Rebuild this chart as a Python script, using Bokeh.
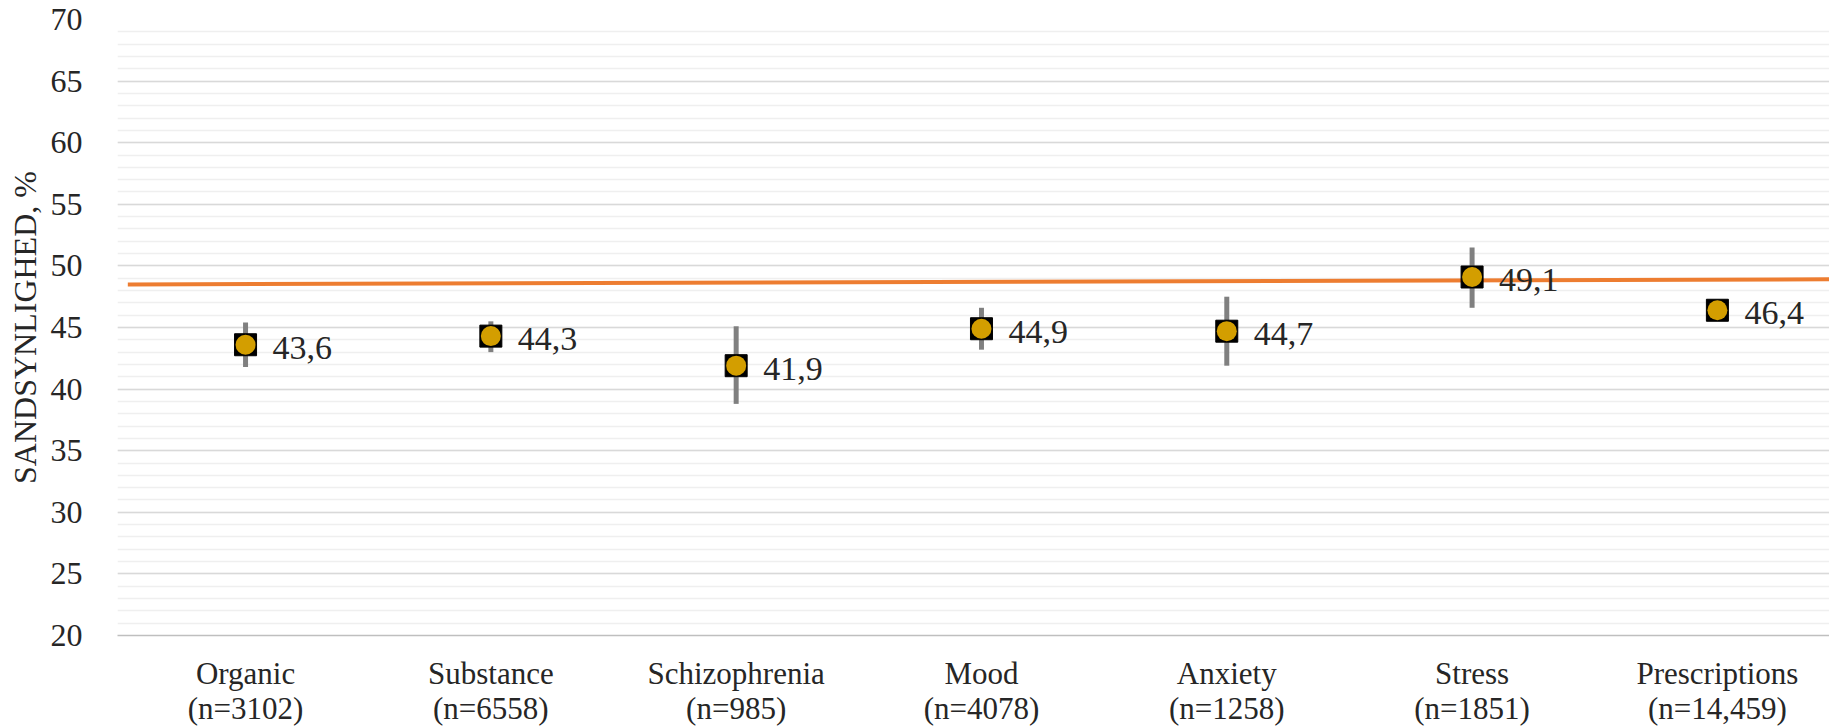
from bokeh.plotting import figure
from bokeh.models import ColumnDataSource, FixedTicker, SingleIntervalTicker, Range1d, LinearAxis
from bokeh.core.properties import value
from bokeh.embed import file_html
from bokeh.resources import INLINE

categories = ["Organic", "Substance", "Schizophrenia", "Mood", "Anxiety", "Stress", "Prescriptions"]
counts = ["3102", "6558", "985", "4078", "1258", "1851", "14,459"]
estimates = [43.6, 44.3, 41.9, 44.9, 44.7, 49.1, 46.4]
lower = [41.8, 43.0, 38.8, 43.2, 41.9, 46.6, 46.0]
upper = [45.4, 45.5, 45.1, 46.6, 47.5, 51.5, 46.8]
labels = ["43,6", "44,3", "41,9", "44,9", "44,7", "49,1", "46,4"]
ref_x = [0.52, 7.5]
ref_y = [48.5, 48.92]

FONT = "Liberation Serif"
TXT = "#262626"

xs = list(range(1, len(categories) + 1))
src = ColumnDataSource(dict(x=xs, est=estimates, lo=lower, hi=upper, lab=labels))

p = figure(width=1829, height=728, output_backend="svg", toolbar_location=None,
           x_range=Range1d(0.478, 7.457), y_range=Range1d(20, 70),
           min_border_left=117, min_border_right=0, min_border_top=19, min_border_bottom=91)
p.outline_line_color = None
p.background_fill_color = "white"

# grid
p.xgrid.visible = False
p.yaxis.ticker = SingleIntervalTicker(interval=5, num_minor_ticks=5)
p.ygrid.grid_line_color = "#d9d9d9"
p.ygrid.grid_line_width = 1.5
p.ygrid.minor_grid_line_color = "#efefef"
p.ygrid.minor_grid_line_width = 1.5

# x axis: category names
p.xaxis.ticker = FixedTicker(ticks=xs)
p.xaxis.major_label_overrides = {x: c for x, c in zip(xs, categories)}
p.xaxis.axis_line_color = "#bfbfbf"
p.xaxis.axis_line_width = 1.5
p.xaxis.major_tick_line_color = None
p.xaxis.minor_tick_line_color = None
p.xaxis.major_label_text_font = FONT
p.xaxis.major_label_text_font_size = "31px"
p.xaxis.major_label_text_color = TXT
p.xaxis.major_label_standoff = 14

# second row of x labels: group sizes
count_axis = LinearAxis(ticker=FixedTicker(ticks=xs),
                        major_label_overrides={x: f"(n={n})" for x, n in zip(xs, counts)})
count_axis.axis_line_color = None
count_axis.major_tick_line_color = None
count_axis.minor_tick_line_color = None
count_axis.major_label_text_font = FONT
count_axis.major_label_text_font_size = "31px"
count_axis.major_label_text_color = TXT
count_axis.major_label_standoff = -9
p.add_layout(count_axis, "below")

# y axis
p.yaxis.axis_line_color = None
p.yaxis.major_tick_line_color = None
p.yaxis.minor_tick_line_color = None
p.yaxis.major_label_text_font = FONT
p.yaxis.major_label_text_font_size = "32px"
p.yaxis.major_label_text_color = TXT
p.yaxis.major_label_standoff = 29
p.yaxis.axis_label = "SANDSYNLIGHED, %"
p.yaxis.axis_label_text_font = FONT
p.yaxis.axis_label_text_font_style = "normal"
p.yaxis.axis_label_text_font_size = "32px"
p.yaxis.axis_label_text_color = TXT
p.yaxis.axis_label_standoff = 5

# reference line
p.line(ref_x, ref_y, line_color="#ED7D31", line_width=4)

# error bars
p.segment(x0="x", y0="lo", x1="x", y1="hi", source=src, line_color="#808080", line_width=5)

# markers
p.scatter(x="x", y="est", source=src, marker="square", size=22, fill_color="black", line_color="black")
p.scatter(x="x", y="est", source=src, marker="circle", size=20, fill_color="#D39E00", line_color=None)

# value labels
p.text(x="x", y="est", text="lab", source=src, x_offset=27, y_offset=3,
       text_font=value(FONT), text_font_size="34px", text_color=TXT,
       text_baseline="middle", text_align="left")

open("out.html", "w").write(file_html(p, INLINE))
